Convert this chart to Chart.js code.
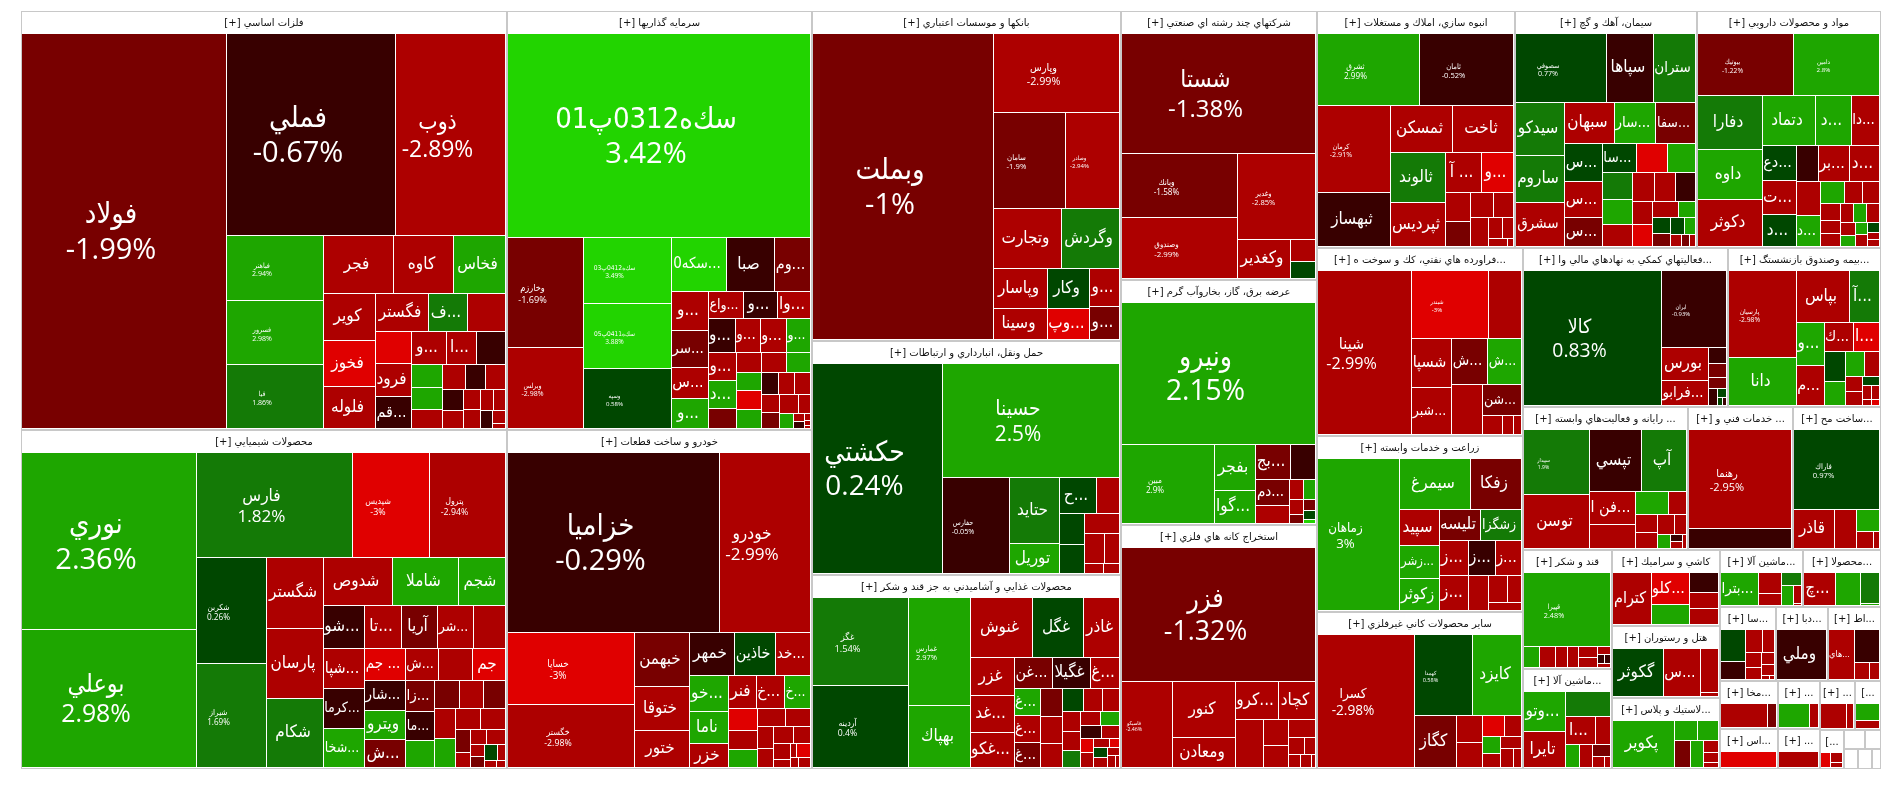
<!DOCTYPE html>
<html lang="fa">
<head>
  <meta charset="utf-8">
  <title>نقشه بازار</title>
  <script src="https://cdnjs.cloudflare.com/ajax/libs/Chart.js/4.4.1/chart.umd.js"></script>
  <style>
    html, body { margin: 0; padding: 0; background: #fff; }
    canvas { display: block; }
  </style>
</head>
<body>
  <canvas id="myChart" width="1902" height="786"></canvas>
  <script>
    // sector titles, in the order they are laid out
    var sectorNames = [
      'فلزات اساسي [+]', 'محصولات شيميايي [+]', 'سرمايه گذاريها [+]', 'خودرو و ساخت قطعات [+]',
      'بانكها و موسسات اعتباري [+]', 'حمل ونقل، انبارداري و ارتباطات [+]', 'محصولات غذايي و آشاميدني به جز قند و شكر [+]',
      'شركتهاي چند رشته اي صنعتي [+]', 'عرضه برق، گاز، بخاروآب گرم [+]', 'استخراج كانه هاي فلزي [+]',
      'انبوه سازي، املاك و مستغلات [+]', 'سيمان، آهك و گچ [+]', 'مواد و محصولات دارويي [+]',
      '...فراورده هاي نفتي، كك و سوخت ه [+]', 'زراعت و خدمات وابسته [+]', 'ساير محصولات كاني غيرفلزي [+]',
      '...فعاليتهاي كمكي به نهادهاي مالي وا [+]', '...بيمه وصندوق بازنشستگ [+]',
      '... رايانه و فعاليت‌هاي وابسته [+]', '... خدمات فني و [+]', '...ساخت مح [+]',
      'قند و شكر [+]', '...ماشين آلا [+]', 'كاشي و سراميك [+]', 'هتل و رستوران [+]', '...لاستيك و پلاس [+]',
      '...ماشين آلا [+]', '...محصولا [+]', '...سا [+]', '...دبا [+]', '...اط [+]',
      '...مخا [+]', '...اس [+]', '... [+]', '... [+]', '... [+]', '...]', '...]',
      '', '', '', '', ''
    ];
    var sectorValues = [
      202400, 163700, 127400, 103000, 101600, 71800, 59750, 52260, 47800, 47400,
      46500, 43000, 43200, 38500, 36100, 32200, 32400, 24300, 23430, 15050, 12500,
      10500, 8800, 8130, 7800, 7600, 4700, 4420, 4150, 3850, 3900,
      2780, 2320, 2016, 1640, 1730, 1250, 960, 400, 320, 280, 260, 180
    ];

    var cellNames = [
      ['فولاد','فملي','ذوب','فباهنر','فسرور','فيا','فجر','كاوه','فخاس','كوير','فخوز','فلوله','فگستر','...ف','','','فرود','...قم','...و','...ا','','','','','','','','','','','','','','','',''],
      ['نوري','بوعلي','فارس','شپديس','پترول','شكربن','شيراز','شگستر','پارسان','شكام','شدوص','شاملا','شجم','...شو','...شپا','...كرما','...شخا','...تا','آريا','...شر','','... جم','...شار','ويترو','...ش','...ش','','جم','...زا','...ما','','','','','','','','','','','','','','','','','',''],
      ['سك‌ه0312پ01','وخارزم','وبرلس','سك‌ه0412پ03','سك‌ه0411پ05','وسپه','...سكه0','صبا','...وم','...و','...سر','...س','...و','...واع','...و','...وا','...و','...و','...و','...و','...و','...د','','','','','','','','','','','','','','','','','','','',''],
      ['خزاميا','خودرو','خساپا','خگستر','خبهمن','ختوقا','ختور','خمهر','خاذين','...خد','...خو','ناما','خزر','فنر','...خ','...خ','','','','','','','','','','','','','','',''],
      ['وبملت','وپارس','سامان','وصادر','وتجارت','وگردش','وپاسار','وسينا','وكار','...وپ','...و','...و'],
      ['حكشتي','حسينا','حفارس','حتايد','توريل','...ح','','','','','','','',''],
      ['غگز','آردينه','غمارس','بهپاك','غنوش','غگل','غاذر','غزر','...غد','...غكو','...غن','غگيلا','...غ','...غ','...غ','...غ','','','','','','','','','','','','','','','','','','','','','',''],
      ['شستا','وبانك','وصندوق','وغدير','وكغدير','',''],
      ['ونيرو','مبين','بفجر','...گوا','...بج','','...دم','','','','','','','',''],
      ['فزر','فاسيكو','كنور','ومعادن','...كرو','كچاد','','','','','','','','',''],
      ['ثشرق','ثامان','كرمان','ثبهساز','ثمسكن','ثاخت','ثالوند','ثپرديس','... آ','...و','','','','','','','','',''],
      ['سصوفي','سپاها','ستران','سيدكو','ساروم','سشرق','سبهان','...سار','...سفا','...س','...س','...س','...سا','','','','','','','','','','','','','','','','','','',''],
      ['بيوتيك','دامين','دفارا','داوه','دكوثر','دتماد','...د','...دا','...دع','...ت','...د','','...بر','...د','','...د','','','','','','','','','','','','','','','',''],
      ['شينا','شبندر','','شسپا','...شبر','...ش','...ش','','...شن','','',''],
      ['زماهان','سيمرغ','زفكا','سپيد','...زشر','زكوثر','تليسه','زشگزا','...ز','...ز','...ز','...ز','','','',''],
      ['كسرا','كهمدا','كايزد','كگاز','','','','','','','','',''],
      ['كالا','ايران','بورس','...فرابو','','','','','','',''],
      ['پارسيان','دانا','بپاس','...آ','...و','...م','...ك','...ا','','','','','','','','','','',''],
      ['سپيدار','توسن','تپسي','آپ','...فن ا','','','','','','','','','','',''],
      ['رهنما',''],
      ['فاراك','قاذر','','','',''],
      ['قپيرا','','','','','','','','','',''],
      ['...وتو','تايرا','','...ا','','','','','',''],
      ['كترام','...كلو','','','',''],
      ['گكوثر','...س','',''],
      ['پكوير','','','','','','',''],
      ['...بترا','','','','','',''],
      ['...چ','','',''],
      ['','','','','','','','','',''],
      ['وملي'],
      ['...هاي','','',''],
      ['',''], [''], ['',''], [''], ['',''], ['',''], ['','',''],
      [], [], [], [], []
    ];
    var cellValues = [
      [76400,32000,20900,5900,5850,5800,3850,3260,2860,2290,2210,2050,1920,1420,1350,1110,1145,1090,1050,910,890,675,640,560,545,483,465,400,355,335,320,260,240,200,150,60],
      [29600,23000,15550,7680,7600,7100,6930,3900,3800,3760,3190,3060,2200,1690,1600,1560,1550,1500,1480,1450,1320,1245,1150,1105,1070,1050,1035,1030,880,830,760,640,640,590,600,565,500,500,320,220,220,265,165,150,190,125,80,60],
      [59600,8040,5890,5650,5600,5100,2840,2500,1860,1380,1320,1100,1060,930,890,870,870,830,830,800,750,750,530,475,460,460,430,460,445,365,360,335,320,290,345,220,205,80,70,40,30,20],
      [37100,15900,8800,7800,2850,2350,1950,1880,1740,1460,1340,1215,920,900,865,820,630,520,500,500,435,355,305,320,280,255,135,90,195,70,115],
      [53800,9700,6640,5030,3950,3400,2100,1650,1640,1280,1120,950],
      [26300,19400,6280,3190,1450,1320,815,730,690,660,600,430,175,150],
      [8000,7540,6400,3700,3490,2930,2040,1600,1530,1430,1150,1125,860,680,670,625,610,580,520,450,400,380,345,335,290,265,260,250,220,170,170,155,90,135,135,90,90,40],
      [22400,7220,6840,6440,1970,540,420],
      [26700,7200,1835,1285,1190,850,850,600,290,240,210,120,115,110,45],
      [25000,4240,3400,1820,1540,1345,1280,625,520,490,265,185,155,130,50],
      [6880,6320,6000,3700,2775,2730,2600,2280,1340,1220,685,585,545,470,465,280,205,150,50],
      [5850,3080,2700,2450,2180,2020,1890,1600,1530,1300,1260,1030,930,820,755,735,710,615,590,565,520,440,430,400,275,260,225,205,175,115,95,65],
      [5250,4720,3150,2880,2680,2380,1610,1260,1090,1050,970,710,1000,950,690,650,475,335,335,305,250,235,210,225,225,175,140,135,130,105,70,70],
      [14660,4980,2140,1900,1810,1575,1500,1450,1170,365,195,140],
      [11900,3460,2500,1380,1245,1245,1220,1200,955,955,910,875,665,500,375,245],
      [12300,4550,3780,2100,665,625,465,335,305,255,245,215,150],
      [17800,4770,1500,1105,275,230,195,135,80,40,30],
      [5420,3030,2545,1450,1150,1050,780,720,565,465,440,340,250,220,155,120,100,50,40],
      [4110,3380,3070,2630,1425,1050,720,395,400,335,320,235,185,85,80,50],
      [9750,1985],
      [6390,1470,770,470,270,100],
      [5900,318,300,250,215,200,175,95,60,47,45],
      [1545,1415,1050,815,400,310,265,200,125,65],
      [1860,1080,695,535,425,425],
      [2300,1715,750,60],
      [2580,415,380,375,315,150,130,70],
      [1105,420,240,230,215,130,15],
      [940,735,520,30],
      [695,395,330,240,210,175,135,120,30,20],
      [2470],
      [1190,785,245,160],
      [930,185], [880], [605,165], [665], [515,150], [275,135], [125,95,50],
      [], [], [], [], []
    ];
    var cellChanges = [
      [-1.99,-0.67,-2.89,2.94,2.98,1.86,-2.7,-2.8,2.6,-2.8,-3,-2.8,-2.7,1.5,-2.7,-3,-2.7,-0.5,-2.7,-2.7,-0.5,2.5,2.5,-2.7,-2.7,-0.5,-2.7,-0.5,-2.7,-2.7,-2.7,-2.7,-2.7,-0.5,-2.7,-2.7],
      [2.36,2.98,1.82,-3,-2.94,0.26,1.69,-2.7,-2.7,1.6,-2.8,2.5,2.5,-0.5,-2.7,-0.5,2.5,-2.7,-1.5,-2.7,-2.7,-3,-0.5,2.5,-1.5,-2.7,-2.7,-3,-1.5,-0.5,2.5,-1.5,-2.7,-1.5,-2.7,2.5,-2.7,-2.7,-1.5,-2.7,-2.7,-2.7,-2.7,-1.5,0.5,-2.7,-2.7,-2.7],
      [3.42,-1.69,-2.98,3.49,3.88,0.58,3.4,-0.5,-1.5,-2.7,-1.5,-2.7,2.5,-2.7,-0.5,-2.7,-0.5,-2.7,-2.7,2.5,-2.7,2.5,-1.5,-2.7,-2.7,2.5,2.5,-3,2.5,-0.5,-2.7,-2.7,-2.7,-1.5,-2.7,-2.7,2.5,-2.7,-0.5,-2.7,-2.7,-2.7],
      [-0.29,-2.99,-3,-2.98,-1.5,-2.7,-2.7,-0.5,0.5,-2.7,2.5,2.5,-2.7,-2.7,-2.7,2.5,-3,-2.7,2.5,-2.7,-2.7,-2.7,-2.7,-2.7,-2.7,-2.7,-2.7,-2.7,-3,-2.7,-2.7],
      [-1,-2.99,-1.9,-2.94,-2.7,1.5,-2.7,-2.7,0.5,-3,-2.7,-1.5],
      [0.24,2.5,-0.05,1.5,2.5,0.5,-2.7,0.5,0.5,-2.7,-2.7,-2.7,-2.7,-2.7],
      [1.54,0.4,2.97,2.5,-2.7,0.5,-2.7,-2.7,-2.7,-2.7,-1.5,-0.5,-2.7,2.5,-2.7,-1.5,-1.5,-2.7,-2.7,0.5,-2.7,-2.7,-2.7,-2.7,1.5,-2.7,2.5,-0.5,-2.7,-3,-2.7,-2.7,-3,0.5,-2.7,-2.7,-2.7,-2.7],
      [-1.38,-1.58,-2.99,-2.85,-2.7,-2.7,0.5],
      [2.15,2.9,2.5,2.5,-1.5,-0.5,-1.5,-2.7,-2.7,2.5,-2.7,-1.5,-1.5,0.5,3.4],
      [-1.32,-2.46,-2.7,-2.7,-2.7,-2.7,-2.7,-2.7,-2.7,-2.7,-2.7,-2.7,-2.7,-2.7,-2.7],
      [2.99,-0.52,-2.91,-0.5,-2.7,-2.7,1.5,-2.7,-2.7,-3,-2.7,-1.5,-2.7,-2.7,-2.7,-2.7,-2.7,-2.7,-2.7],
      [0.77,-0.5,1.5,1.5,1.5,-2.7,-2.7,2.5,-1.5,0.5,-2.7,-1.5,0.5,-3,2.5,1.5,2.5,-2.7,-2.7,-2.7,-0.5,-2.7,-3,-2.7,2.5,0.5,-1.5,0.5,2.5,-2.7,-1.5,-2.7],
      [-1.22,2.8,1.5,2.5,-2.7,2.5,2.5,-2.7,0.5,-2.7,0.5,-0.5,-2.7,-2.7,-2.7,2.5,2.5,-2.7,-2.7,-2.7,-2.7,-2.7,-2.7,2.5,-2.7,-2.7,2.5,2.5,-2.7,0.5,-2.7,-2.7],
      [-2.99,-3,-2.7,-2.7,-2.7,-1.5,2.5,-2.7,-1.5,-2.7,-2.7,-2.7],
      [3,2.5,-1.5,-2.7,2.5,2.5,-1.5,1.5,-2.7,-2.7,-0.5,-2.7,-2.7,-2.7,-2.7,-2.7],
      [-2.98,0.58,2.5,-1.5,-2.7,-2.7,-3,-2.7,2.5,-2.7,-2.7,-2.7,-2.7],
      [0.83,-0.93,-2.7,-2.7,-0.5,-1.5,-1.5,-0.5,0.5,0.5,-0.5],
      [-2.98,2.5,-2.7,1.5,2.5,-2.7,-2.7,-3,0.5,2.5,2.5,-2.7,-2.7,-2.7,0.5,-2.7,-2.7,-2.7,-3],
      [1.9,-2.7,-0.5,1.5,-2.7,-2.7,2.5,-2.7,-2.7,-2.7,-2.7,-2.7,2.5,-0.5,-2.7,-2.7],
      [-2.95,-0.5],
      [0.97,-2.7,-2.7,2.5,-2.7,-2.7],
      [2.48,2.5,-2.7,-2.7,-2.7,-2.7,-2.7,-2.7,-0.5,-0.5,-2.7],
      [2.5,-2.7,1.5,-2.7,-2.7,2.5,-2.7,-1.5,-2.7,-2.7],
      [-2.7,-3,2.5,-0.5,-2.7,-2.7],
      [0.5,-2.7,-2.7,-2.7],
      [2.5,2.5,2.5,-1.5,2.5,-2.7,-2.7,-2.7],
      [2.5,-2.7,-2.7,1.5,2.5,-2.7,-2.7],
      [-2.7,2.5,1.5,2.5],
      [0.5,-0.5,-2.7,-2.7,-2.7,-2.7,-2.7,-2.7,-2.7,-2.7],
      [-0.5],
      [-2.7,-0.5,-2.7,-2.7],
      [-2.7,-1.5], [-3], [2.5,-2.7], [-2.7], [-2.7,-2.7], [2.5,-2.7], [-3,-2.7,-2.7],
      [], [], [], [], []
    ];

    var HEADER = 23;
    var SECTOR_RATIO = 1;
    var CELL_RATIO = 1.03;

    // squarified tiling, keeps the order of the values
    function squarify(values, x0, y0, x1, y1, ratio) {
      var rects = [];
      var value = values.reduce(function (a, b) { return a + b; }, 0);
      var i0 = 0, i1 = 0, n = values.length;
      while (i0 < n) {
        var dx = x1 - x0, dy = y1 - y0;
        var sumValue = values[i1++];
        var minValue = sumValue, maxValue = sumValue;
        var alpha = Math.max(dy / dx, dx / dy) / (value * ratio);
        var beta = sumValue * sumValue * alpha;
        var minRatio = Math.max(maxValue / beta, beta / minValue);
        for (; i1 < n; ++i1) {
          var v = values[i1];
          sumValue += v;
          if (v < minValue) minValue = v;
          if (v > maxValue) maxValue = v;
          beta = sumValue * sumValue * alpha;
          var newRatio = Math.max(maxValue / beta, beta / minValue);
          if (newRatio > minRatio) { sumValue -= v; break; }
          minRatio = newRatio;
        }
        var k = value ? sumValue / value : 1;
        var pos;
        if (dx < dy) {
          pos = x0;
          for (var a = i0; a < i1; a++) {
            var w = dx * values[a] / sumValue;
            rects.push({ x0: pos, y0: y0, x1: pos + w, y1: y0 + dy * k });
            pos += w;
          }
          y0 += dy * k;
        } else {
          pos = y0;
          for (var b = i0; b < i1; b++) {
            var h = dy * values[b] / sumValue;
            rects.push({ x0: x0, y0: pos, x1: x0 + dx * k, y1: pos + h });
            pos += h;
          }
          x0 += dx * k;
        }
        value -= sumValue;
        i0 = i1;
      }
      return rects;
    }

    function colorFor(change) {
      if (change > 3) return '#22d400';
      if (change >= 2) return '#1ea600';
      if (change >= 1) return '#147a06';
      if (change >= 0) return '#004700';
      if (change > -1) return '#380000';
      if (change > -2) return '#780000';
      if (change > -3) return '#ad0000';
      return '#e00000';
    }

    var W = 1860, H = 758;
    var frames = [], frameLabels = [];
    var cells = [], cellColors = [], cellLabels = [];

    squarify(sectorValues, 0, 0, W, H, SECTOR_RATIO).forEach(function (box, s) {
      var bx0 = Math.round(box.x0), by0 = Math.round(box.y0);
      var bx1 = Math.round(box.x1), by1 = Math.round(box.y1);
      frames.push({ x: bx0, y: by0, x2: bx1, y2: by1 });
      frameLabels.push(sectorNames[s]);
      squarify(cellValues[s], bx0 + 1, by0 + HEADER, bx1 - 1, by1 - 1, CELL_RATIO).forEach(function (r, i) {
        var l = Math.round(r.x0), t = Math.round(r.y0);
        // one pixel gap on the right and bottom of every cell
        cells.push({ x: l, y: t, x2: Math.max(l + 1, Math.round(r.x1) - 1), y2: Math.max(t + 1, Math.round(r.y1) - 1) });
        cellColors.push(colorFor(cellChanges[s][i]));
        cellLabels.push({ name: cellNames[s][i], change: cellChanges[s][i] });
      });
    });

    // treemap rectangles drawn with the stock bar element
    class TreemapController extends Chart.DatasetController {
      update(mode) {
        var meta = this._cachedMeta;
        this.updateElements(meta.data, 0, meta.data.length, mode);
      }
      updateElements(rects, start, count, mode) {
        var xs = this._cachedMeta.xScale, ys = this._cachedMeta.yScale;
        var data = this.getDataset().data;
        for (var i = start; i < start + count; i++) {
          var d = data[i];
          var left = xs.getPixelForValue(d.x), right = xs.getPixelForValue(d.x2);
          var top = ys.getPixelForValue(d.y), bottom = ys.getPixelForValue(d.y2);
          this.updateElement(rects[i], i, {
            x: (left + right) / 2,
            y: top,
            base: bottom,
            width: right - left,
            height: bottom - top,
            horizontal: false,
            borderSkipped: {},
            inflateAmount: 0,
            options: this.resolveDataElementOptions(i, mode)
          }, mode);
        }
      }
    }
    TreemapController.id = 'treemap';
    TreemapController.defaults = { dataElementType: 'bar', datasetElementType: false };
    Chart.register(TreemapController);

    var HEAD_FONT = '"DejaVu Sans"';
    var NAME_FONT = '"DejaVu Sans Condensed", "DejaVu Sans"';
    var PCT_FONT = '"Open Sans"';

    var treemapLabels = {
      id: 'treemapLabels',
      afterDatasetsDraw: function (chart) {
        var ctx = chart.ctx;
        ctx.save();
        ctx.textAlign = 'center';
        ctx.textBaseline = 'middle';
        ctx.fillStyle = '#111';
        chart.getDatasetMeta(1).data.forEach(function (el, i) {
          if (!frameLabels[i]) return;
          ctx.direction = 'rtl';
          ctx.font = '10px ' + HEAD_FONT;
          ctx.fillText(frameLabels[i], el.x, el.y + 12);
        });
        ctx.fillStyle = '#fff';
        chart.getDatasetMeta(0).data.forEach(function (el, i) {
          var label = cellLabels[i];
          if (!label.name) return;
          var w = el.width, h = el.height, cy = el.y + h / 2;
          if (w * h >= 4000) {
            // big cells: name and percent, size grows with the area
            var size = Math.min(29, w * h / 1000 + 1);
            ctx.direction = 'rtl';
            ctx.font = size + 'px ' + NAME_FONT;
            ctx.fillText(label.name, el.x - 13, cy + 2 - size * 0.6);
            ctx.direction = 'ltr';
            ctx.font = size + 'px ' + PCT_FONT;
            ctx.fillText(label.change + '%', el.x - 13, cy + 2 + size * 0.6);
          } else {
            var s = 17;
            ctx.direction = 'rtl';
            ctx.font = s + 'px ' + NAME_FONT;
            while (s > 9 && ctx.measureText(label.name).width > w - 4) {
              s -= 1;
              ctx.font = s + 'px ' + NAME_FONT;
            }
            ctx.fillText(label.name, el.x - 2, cy);
          }
        });
        ctx.restore();
      }
    };

    new Chart(document.getElementById('myChart'), {
      type: 'treemap',
      data: {
        datasets: [
          { data: cells, backgroundColor: cellColors, borderWidth: 0, order: 0, clip: false },
          { data: frames, backgroundColor: '#ffffff', borderColor: '#c8c8c8', borderWidth: 1, order: 1, clip: false }
        ]
      },
      options: {
        responsive: false,
        animation: false,
        events: [],
        layout: { padding: { left: 21, top: 11, right: 21, bottom: 17 } },
        plugins: { legend: { display: false }, tooltip: { enabled: false } },
        scales: {
          x: { type: 'linear', display: false, min: 0, max: W },
          y: { type: 'linear', display: false, min: 0, max: H, reverse: true }
        }
      },
      plugins: [treemapLabels]
    });
  </script>
</body>
</html>
